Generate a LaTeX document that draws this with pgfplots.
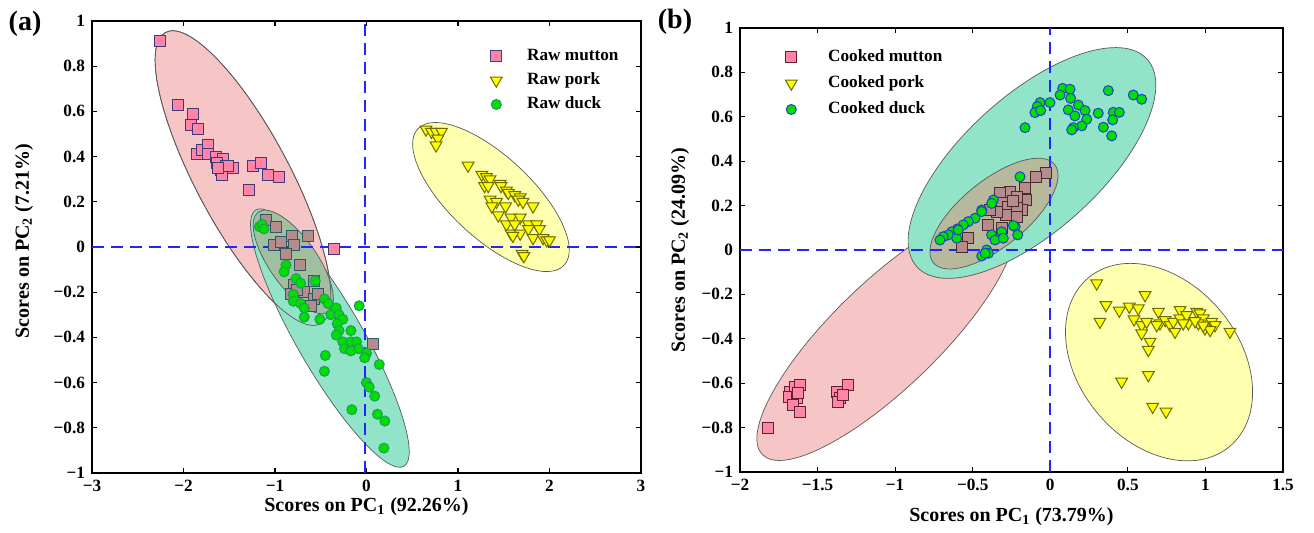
\documentclass[border=0pt]{standalone}
\usepackage{pgfplots}
\pgfplotsset{compat=1.18}
\usepackage{fontspec}
\setmainfont{Liberation Serif}

\definecolor{mutF}{HTML}{FF84A6}
\definecolor{mutEa}{HTML}{3E3B7C}
\definecolor{mutEb}{HTML}{5E2232}
\definecolor{brnF}{HTML}{B48C8C}
\definecolor{brnEa}{HTML}{2F5866}
\definecolor{brnEb}{HTML}{4A2A2A}
\definecolor{porF}{HTML}{FFFF00}
\definecolor{porE}{HTML}{6E6E00}
\definecolor{duckF}{HTML}{00E000}
\definecolor{duckEa}{HTML}{1E9A5A}
\definecolor{duckEb}{HTML}{2040D0}
\definecolor{ellP}{HTML}{F6C6C6}
\definecolor{ellG}{HTML}{92E4C8}
\definecolor{ellY}{HTML}{FFFFB0}
\definecolor{ellDa}{HTML}{9FBF9F}
\definecolor{ellDb}{HTML}{B7B99D}
\definecolor{refB}{HTML}{2424FF}

\newcommand\fs{\fontsize{8.6}{10}\selectfont\bfseries}

\tikzset{ell/.style={draw=black!65, line width=0.35pt}}

\pgfplotsset{
  pcabox/.style={
    scale only axis, anchor=south west,
    ymin=-1, ymax=1,
    ytick={-1,-0.8,-0.6,-0.4,-0.2,0,0.2,0.4,0.6,0.8,1},
    yticklabels={−1,−0.8,−0.6,−0.4,−0.2,0,0.2,0.4,0.6,0.8,1},
    tick align=inside, major tick length=2.5pt,
    axis line style={line width=0.75pt}, tick style={line width=0.6pt, black},
    ticklabel style={font=\fs},
    label style={font=\fontsize{10}{12}\selectfont\bfseries},
    legend cell align=left,
  },
  refl/.style={draw=refB, line width=0.9pt, dash pattern=on 6pt off 3.5pt, forget plot},
  sqa/.style={only marks, mark=square*, mark size=2.75pt, mark options={fill=mutF, draw=mutEa, line width=0.5pt}},
  sqb/.style={only marks, mark=square*, mark size=2.75pt, mark options={fill=mutF, draw=mutEb, line width=0.5pt}},
  tri/.style={only marks, mark=triangle*, mark size=3.4pt, mark options={fill=porF, draw=porE, line width=0.5pt, rotate=180}},
  dka/.style={only marks, mark=*, mark size=2.5pt, mark options={fill=duckF, draw=duckEa, line width=0.5pt}},
  dkb/.style={only marks, mark=*, mark size=2.5pt, mark options={fill=duckF, draw=duckEb, line width=0.5pt}},
}

\begin{document}
\begin{tikzpicture}
\path (0,0) rectangle (657pt,264.5pt);

% ---------------- (a) raw ----------------
\begin{axis}[pcabox,
  at={(46pt,28pt)}, width=274.5pt, height=226pt,
  xmin=-3, xmax=3, xtick={-3,-2,-1,0,1,2,3},
  xticklabels={−3,−2,−1,0,1,2,3},
  xlabel={Scores on PC\textsubscript{1} (92.26\%)},
  ylabel={Scores on PC\textsubscript{2} (7.21\%)},
  xlabel style={at={(axis description cs:0.5,0)}, anchor=center, yshift=-17pt},
  ylabel style={at={(axis description cs:0,0.5)}, anchor=center, yshift=34pt, xshift=3pt},
  legend style={draw=none, fill=none, inner sep=0pt, at={(axis cs:1.35,0.889)}, anchor=north west,
    font=\fs, row sep=2pt, nodes={inner sep=1pt, text height=6.2pt, text depth=1.8pt},
    /tikz/every odd column/.append style={column sep=11.5pt}},
]
\fill[ell, fill=ellP] (axis cs:-1.35,0.305) ellipse [x radius=82.5pt, y radius=23.5pt, rotate=-62];
\fill[ell, fill=ellG] (axis cs:-0.40,-0.403) ellipse [x radius=74pt, y radius=16.5pt, rotate=-60];
\fill[ell, fill=ellDa] (axis cs:-0.80,-0.066) ellipse [x radius=30.5pt, y radius=12pt, rotate=-55];
\fill[ell, fill=ellY] (axis cs:1.36,0.221) ellipse [x radius=50pt, y radius=20.5pt, rotate=-43];
\draw[ell] (axis cs:-1.35,0.305) ellipse [x radius=82.5pt, y radius=23.5pt, rotate=-62];

\addplot[refl] coordinates {(-3,0) (3,0)};
\addplot[refl] coordinates {(-0.02,-1) (-0.02,1)};

\addplot[sqa] coordinates {
 (-2.26,0.91) (-2.06,0.63) (-1.90,0.59) (-1.92,0.54) (-1.84,0.52) (-1.85,0.41)
 (-1.80,0.43) (-1.73,0.45) (-1.73,0.41) (-1.65,0.40) (-1.57,0.39) (-1.63,0.37)
 (-1.54,0.36) (-1.46,0.35) (-1.59,0.34) (-1.58,0.32) (-1.51,0.36) (-1.62,0.35)
 (-1.24,0.36) (-1.15,0.37) (-1.08,0.32) (-0.96,0.31) (-1.28,0.25) (-0.35,-0.01)};
\addlegendentry{Raw mutton}
\addplot[tri] coordinates {
 (0.65,0.52) (0.71,0.51) (0.76,0.51) (0.82,0.51) (0.78,0.48) (0.76,0.45) (1.11,0.36)
 (1.26,0.32) (1.31,0.31) (1.35,0.30) (1.29,0.27) (1.33,0.27) (1.46,0.28) (1.47,0.27)
 (1.53,0.25) (1.55,0.24) (1.62,0.23) (1.68,0.22) (1.66,0.21) (1.71,0.20) (1.35,0.21)
 (1.42,0.20) (1.37,0.18) (1.52,0.18) (1.82,0.18) (1.44,0.14) (1.58,0.13) (1.68,0.13)
 (1.53,0.10) (1.62,0.10) (1.77,0.10) (1.86,0.10) (1.58,0.06) (1.68,0.06) (1.77,0.08)
 (1.82,0.04) (1.89,0.08) (1.93,0.04) (1.97,0.03) (2.00,0.03) (1.70,-0.03) (1.72,-0.04)
 (1.60,0.05)};
\addlegendentry{Raw pork}
\addplot[only marks, mark=square*, mark size=2.75pt, forget plot,
  mark options={fill=brnF, draw=brnEa, line width=0.5pt}] coordinates {
 (-1.10,0.12) (-0.99,0.09) (-1.01,0.01) (-0.93,0.02) (-0.81,0.05) (-0.79,0.01)
 (-0.64,0.05) (-0.88,-0.03) (-0.73,-0.08) (-0.57,-0.15) (-0.79,-0.17) (-0.68,-0.20)
 (-0.82,-0.21) (-0.57,-0.23) (-0.61,-0.26) (-0.53,-0.21) (-0.76,-0.19) (0.07,-0.43)};
\addplot[dka] coordinates {
 (-1.17,0.09) (-1.14,0.10) (-1.12,0.08) (-0.88,-0.08) (-0.90,-0.11) (-0.77,-0.14)
 (-0.72,-0.16) (-0.56,-0.15) (-0.80,-0.21) (-0.80,-0.24) (-0.72,-0.25) (-0.68,-0.27)
 (-0.68,-0.31) (-0.51,-0.32) (-0.46,-0.23) (-0.42,-0.25) (-0.39,-0.30) (-0.33,-0.27)
 (-0.30,-0.30) (-0.26,-0.32) (-0.32,-0.34) (-0.30,-0.37) (-0.33,-0.39) (-0.17,-0.37)
 (-0.26,-0.42) (-0.24,-0.45) (-0.17,-0.42) (-0.11,-0.42) (-0.09,-0.45) (-0.17,-0.46)
 (-0.08,-0.26) (0.00,-0.47) (-0.02,-0.49) (-0.45,-0.48) (-0.46,-0.55) (0.14,-0.52)
 (0.00,-0.60) (0.03,-0.62) (0.09,-0.66) (-0.16,-0.72) (0.12,-0.74) (0.20,-0.77)
 (0.19,-0.89)};
\addlegendentry{Raw duck}
\end{axis}

% ---------------- (b) cooked ----------------
\begin{axis}[pcabox,
  at={(370pt,28.5pt)}, width=271.5pt, height=222pt,
  xmin=-2, xmax=1.5, xtick={-2,-1.5,-1,-0.5,0,0.5,1,1.5},
  xticklabels={−2,−1.5,−1,−0.5,0,0.5,1,1.5},
  xlabel={Scores on PC\textsubscript{1} (73.79\%)},
  ylabel={Scores on PC\textsubscript{2} (24.09\%)},
  xlabel style={at={(axis description cs:0.5,0)}, anchor=center, yshift=-22.5pt},
  ylabel style={at={(axis description cs:0,0.5)}, anchor=center, yshift=30pt},
  legend style={draw=none, fill=none, inner sep=0pt, at={(axis cs:-1.71,0.914)}, anchor=north west,
    font=\fs, row sep=3pt, nodes={inner sep=1pt, text height=6.2pt, text depth=1.8pt},
    /tikz/every odd column/.append style={column sep=14.5pt}},
]
\fill[ell, fill=ellP] (axis cs:-1.059,-0.383) ellipse [x radius=86pt, y radius=26.5pt, rotate=44];
\fill[ell, fill=ellG] (axis cs:-0.118,0.392) ellipse [x radius=77.5pt, y radius=34pt, rotate=42];
\fill[ell, fill=ellDb] (axis cs:-0.363,0.164) ellipse [x radius=39pt, y radius=16.5pt, rotate=39];
\fill[ell, fill=ellY] (axis cs:0.701,-0.505) ellipse [x radius=55pt, y radius=40pt, rotate=-50];

\addplot[refl] coordinates {(-2,0) (1.5,0)};
\addplot[refl] coordinates {(0,-1) (0,1)};

\addplot[sqb] coordinates {
 (-1.818,-0.803) (-1.678,-0.638) (-1.645,-0.616) (-1.613,-0.608) (-1.682,-0.661)
 (-1.635,-0.668) (-1.624,-0.646) (-1.656,-0.698) (-1.613,-0.728) (-1.377,-0.638)
 (-1.302,-0.608) (-1.355,-0.668) (-1.366,-0.683) (-1.334,-0.653)};
\addlegendentry{Cooked mutton}
\addplot[tri] coordinates {
 (0.299,-0.150) (0.611,-0.203) (0.359,-0.248) (0.445,-0.273) (0.509,-0.255) (0.567,-0.263)
 (0.320,-0.323) (0.540,-0.312) (0.589,-0.338) (0.621,-0.323) (0.589,-0.375) (0.643,-0.413)
 (0.632,-0.450) (0.697,-0.278) (0.707,-0.330) (0.686,-0.338) (0.740,-0.315) (0.772,-0.338)
 (0.804,-0.368) (0.793,-0.323) (0.836,-0.270) (0.836,-0.308) (0.879,-0.293) (0.890,-0.330)
 (0.944,-0.278) (0.965,-0.285) (0.986,-0.308) (0.954,-0.330) (0.997,-0.353) (1.040,-0.323)
 (1.062,-0.338) (1.030,-0.360) (1.158,-0.368) (0.632,-0.563) (0.460,-0.593) (0.660,-0.706)
 (0.746,-0.728) (0.857,-0.330) (0.933,-0.320) (0.986,-0.340)};
\addlegendentry{Cooked pork}
\addplot[only marks, mark=square*, mark size=2.75pt, forget plot,
  mark options={fill=brnF, draw=brnEb, line width=0.5pt}] coordinates {
 (-0.028,0.348) (-0.094,0.330) (-0.163,0.278) (-0.157,0.225) (-0.260,0.263) (-0.324,0.255)
 (-0.216,0.240) (-0.313,0.210) (-0.270,0.195) (-0.285,0.158) (-0.184,0.180) (-0.216,0.188)
 (-0.345,0.173) (-0.389,0.180) (-0.399,0.113) (-0.528,0.053) (-0.571,0.015) (-0.313,0.098)
 (-0.216,0.150) (-0.240,0.220)};
\addplot[dkb] coordinates {
 (0.080,0.728) (0.127,0.724) (0.063,0.698) (0.131,0.683) (0.374,0.718) (0.535,0.698)
 (0.589,0.679) (-0.002,0.664) (-0.066,0.664) (-0.084,0.646) (-0.099,0.619) (-0.062,0.628)
 (-0.163,0.551) (0.181,0.653) (0.116,0.631) (0.224,0.628) (0.159,0.604) (0.235,0.589)
 (0.309,0.616) (0.406,0.620) (0.445,0.620) (0.402,0.586) (0.342,0.553) (0.396,0.514)
 (0.203,0.559) (0.149,0.551) (0.138,0.541)
 (-0.195,0.330) (-0.367,0.225) (-0.378,0.210) (-0.442,0.180) (-0.485,0.143) (-0.528,0.128)
 (-0.561,0.113) (-0.599,0.095) (-0.635,0.082) (-0.657,0.068) (-0.690,0.060) (-0.711,0.045)
 (-0.603,0.053) (-0.378,0.068) (-0.356,0.045) (-0.313,0.082) (-0.303,0.053) (-0.227,0.105)
 (-0.210,0.068) (-0.410,0.000) (-0.442,-0.027) (-0.399,-0.015) (-0.238,0.110) (-0.442,0.173)
 (-0.593,0.090) (-0.420,-0.015)};
\addlegendentry{Cooked duck}
\end{axis}

\node[font=\fontsize{14}{16}\selectfont\bfseries] at (12.5pt,252.5pt) {(a)};
\node[font=\fontsize{14}{16}\selectfont\bfseries] at (337.5pt,253.5pt) {(b)};
\end{tikzpicture}
\end{document}
